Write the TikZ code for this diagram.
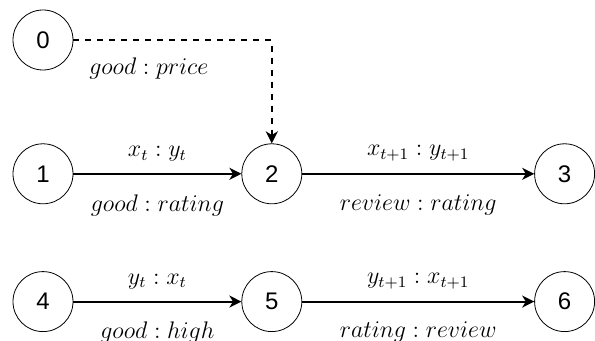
\documentclass[tikz,border=0pt]{standalone}
\usepackage{fontspec}
\setsansfont{Liberation Sans}
\usetikzlibrary{positioning, arrows.meta, calc}
\tikzset{
  st/.style={circle, draw, thin, minimum size=30pt, inner sep=0pt,
    font=\sffamily\fontsize{12}{14}\selectfont},
  trans/.style={-{Stealth[length=6pt, width=6pt, inset=1.8pt]}, line width=1pt},
  dep/.style={trans, dash pattern=on 3pt off 3pt},
  lbl/.style={font=\fontsize{11.5}{14}\selectfont},
}
\begin{document}
\begin{tikzpicture}
    \node[st] (n0) {0};
    \node[st, below=36.5pt of n0] (n1) {1};
    \node[st, right=84pt of n1] (n2) {2};
    \node[st, right=116pt of n2] (n3) {3};
    \node[st, below=33.5pt of n1] (n4) {4};
    \node[st, right=84pt of n4] (n5) {5};
    \node[st, right=116pt of n5] (n6) {6};
    \useasboundingbox ($(n0.center)+(-21.5pt,20pt)$) rectangle ++(297.5pt,-170.5pt);
    \draw[dep] (n0) -| node[lbl, below=5pt, pos=.19] {$good : price$} (n2);
    \draw[trans] (n1) -- node[lbl, above=2.5pt] {$x_t : y_t$} node[lbl, below=6.5pt] {$good : rating$} (n2);
    \draw[trans] (n2) -- node[lbl, above=2.5pt] {$x_{t+1} : y_{t+1}$} node[lbl, below=6.5pt] {$review : rating$} (n3);
    \draw[trans] (n4) -- node[lbl, above=2.5pt] {$y_t : x_t$} node[lbl, below=6.5pt] {$good : high$} (n5);
    \draw[trans] (n5) -- node[lbl, above=2.5pt] {$y_{t+1} : x_{t+1}$} node[lbl, below=6.5pt] {$rating : review$} (n6);
\end{tikzpicture}
\end{document}
